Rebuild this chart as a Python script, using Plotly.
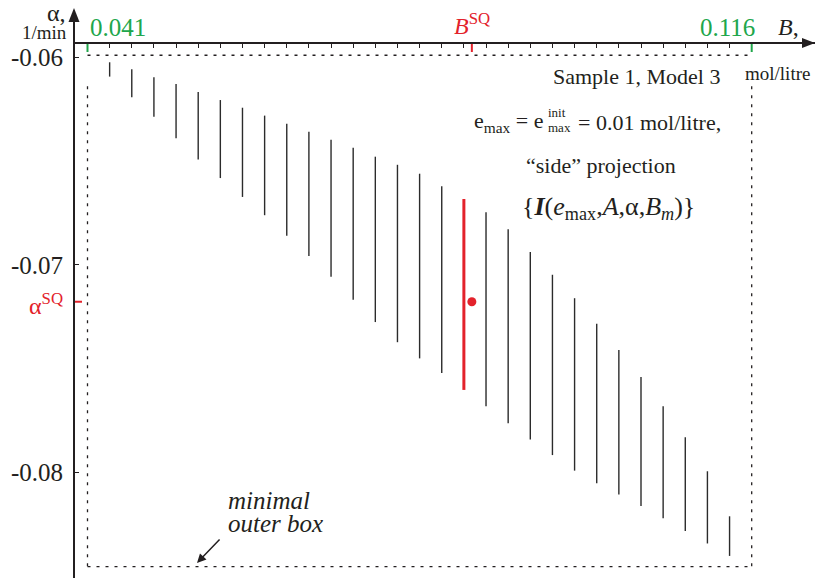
import plotly.graph_objects as go

# B grid (mol/litre) where alpha intervals were evaluated
B_grid = [0.0435, 0.0460, 0.0485, 0.0510, 0.0535, 0.0560, 0.0585, 0.0610,
          0.0635, 0.0660, 0.0685, 0.0710, 0.0735, 0.0760, 0.0785, 0.0810,
          0.0835, 0.0860, 0.0885, 0.0910, 0.0935, 0.0960, 0.0985, 0.1010,
          0.1035, 0.1060, 0.1085, 0.1110, 0.1135]

# upper and lower alpha bounds (1/min) of each interval
alpha_top = [-0.06024, -0.06058, -0.06096, -0.06129, -0.06167, -0.06206, -0.06243, -0.06281,
             -0.06320, -0.06359, -0.06397, -0.06436, -0.06479, -0.06518, -0.06561, -0.06622,
             -0.06683, -0.06747, -0.06829, -0.06938, -0.07048, -0.07161, -0.07284, -0.07411,
             -0.07541, -0.07682, -0.07831, -0.07995, -0.08212]
alpha_bot = [-0.06093, -0.06193, -0.06286, -0.06390, -0.06493, -0.06582, -0.06673, -0.06761,
             -0.06860, -0.06958, -0.07057, -0.07168, -0.07276, -0.07373, -0.07451, -0.07521,
             -0.07603, -0.07682, -0.07764, -0.07842, -0.07917, -0.07992, -0.08053, -0.08107,
             -0.08163, -0.08222, -0.08283, -0.08343, -0.08403]

# highlighted interval and the SQ point estimate
B_highlight = 0.0835
B_sq = 0.0844
alpha_sq = -0.07178

# minimal outer box
box_B = [0.041, 0.116]
box_alpha = [-0.0599, -0.08455]
box_side_top = -0.0614

# axis ticks
B_ticks = [0.0410, 0.0435, 0.0460, 0.0485, 0.0510, 0.0535, 0.0560, 0.0585, 0.0610,
           0.0635, 0.0660, 0.0685, 0.0710, 0.0735, 0.0760, 0.0785, 0.0810, 0.0835,
           0.0860, 0.0885, 0.0910, 0.0935, 0.0960, 0.0985, 0.1010, 0.1035, 0.1060,
           0.1085, 0.1110, 0.1135, 0.1160]
B_end_labels = ["0.041", "0.116"]
alpha_ticks = [-0.06, -0.07, -0.08]
alpha_tick_labels = ["-0.06", "-0.07", "-0.08"]

INK = "#231f20"
GREEN = "#20a64b"
RED = "#e3222b"
FONT = "Liberation Serif"

W, H = 815, 578
X0, Y0 = 75, 44  # plot-area origin (pixels): y-axis at left, B-axis on top
AX_X = X0 / W          # paper x of the alpha axis
AX_Y = 1 - Y0 / H      # paper y of the B axis


def pxx(p):
    return p / W


def pxy(p):
    return 1 - p / H


fig = go.Figure()

# ordinary intervals
seg_x, seg_y = [], []
for b, t, lo in zip(B_grid, alpha_top, alpha_bot):
    if abs(b - B_highlight) < 1e-9:
        continue
    seg_x += [b, b, None]
    seg_y += [t, lo, None]
fig.add_trace(go.Scatter(x=seg_x, y=seg_y, mode="lines",
                         line=dict(color="#2b2b2b", width=1.4),
                         hoverinfo="skip", showlegend=False))

# highlighted interval
i_h = min(range(len(B_grid)), key=lambda i: abs(B_grid[i] - B_highlight))
fig.add_trace(go.Scatter(x=[B_grid[i_h], B_grid[i_h]], y=[alpha_top[i_h], alpha_bot[i_h]],
                         mode="lines", line=dict(color=RED, width=3),
                         hoverinfo="skip", showlegend=False))

# SQ point
fig.add_trace(go.Scatter(x=[B_sq], y=[alpha_sq], mode="markers",
                         marker=dict(color=RED, size=9),
                         hoverinfo="skip", showlegend=False))

# dashed minimal outer box
dash = dict(color=INK, width=1.3, dash="3px,6px")
fig.add_trace(go.Scatter(x=[box_B[0], box_B[1], None, box_B[0], box_B[1]],
                         y=[box_alpha[0], box_alpha[0], None, box_alpha[1], box_alpha[1]],
                         mode="lines", line=dash, hoverinfo="skip", showlegend=False))
fig.add_trace(go.Scatter(x=[box_B[0], box_B[0], None, box_B[1], box_B[1]],
                         y=[box_side_top, box_alpha[1], None, box_side_top, box_alpha[1]],
                         mode="lines", line=dash, hoverinfo="skip", showlegend=False))

shapes = []
# coloured ticks on the B axis
for bv, col in [(box_B[0], GREEN), (box_B[1], GREEN), (B_sq, RED)]:
    shapes.append(dict(type="line", xref="x", yref="paper", ysizemode="pixel", yanchor=AX_Y,
                       x0=bv, x1=bv, y0=0, y1=-8, line=dict(color=col, width=2)))
# alpha_SQ tick on the alpha axis
shapes.append(dict(type="line", xref="paper", xsizemode="pixel", xanchor=AX_X, yref="y",
                   x0=0, x1=7, y0=alpha_sq, y1=alpha_sq, line=dict(color=RED, width=2)))
# y-axis extension above the B axis and arrowheads
shapes.append(dict(type="line", xref="paper", xsizemode="pixel", xanchor=AX_X,
                   yref="paper", ysizemode="pixel", yanchor=AX_Y,
                   x0=-1, x1=-1, y0=0, y1=26, line=dict(color=INK, width=2)))
shapes.append(dict(type="path", xref="paper", xsizemode="pixel", xanchor=AX_X,
                   yref="paper", ysizemode="pixel", yanchor=AX_Y,
                   path="M -1,36 L -6.5,22 L 4.5,22 Z", fillcolor=INK, line=dict(width=0)))
shapes.append(dict(type="path", xref="paper", xsizemode="pixel", xanchor=1,
                   yref="paper", ysizemode="pixel", yanchor=AX_Y,
                   path="M 0,1 L -13,6 L -13,-4 Z", fillcolor=INK, line=dict(width=0)))

ann = []


def label(text, x, y, size, xanchor="center", yanchor="middle", color=INK, xref="paper",
          xshift=0):
    ann.append(dict(text=text, x=x if xref != "paper" else pxx(x), y=pxy(y),
                    xref=xref, yref="paper", xanchor=xanchor, yanchor=yanchor,
                    xshift=xshift, showarrow=False,
                    font=dict(family=FONT, size=size, color=color)))


# B-axis end labels and B_SQ
label(B_end_labels[0], box_B[0], 27, 25, xanchor="left", color=GREEN, xref="x")
label(B_end_labels[1], box_B[1], 27, 25, xanchor="right", color=GREEN, xref="x", xshift=5)
label("<i>B</i><sup>SQ</sup>", B_sq, 24, 24, color=RED, xref="x")
label("<i>B</i>,", 776, 27, 24, xanchor="left")
label("mol/litre", 777, 73, 19)
# alpha axis title and alpha_SQ
label("α,", 68, 13, 24, xanchor="right")
label("1/min", 69, 33, 19, xanchor="right")
label("α<sup>SQ</sup>", 65, 304, 24, xanchor="right", color=RED)

# right-hand text block
label("Sample 1, Model 3", 636, 77, 22)
label("e<sub>max</sub> = e", 545, 122, 22, xanchor="right")
label("init", 546, 112.5, 13, xanchor="left")
label("max", 546, 127.5, 13, xanchor="left")
label("= 0.01 mol/litre,", 576, 122, 22, xanchor="left")
label("“side” projection", 601, 166, 22)
label("{<b><i>I</i></b>(<i>e</i><sub>max</sub>,<i>A</i>,α,<i>B</i><sub><i>m</i></sub>)}",
      608, 208, 26)

# minimal outer box caption with arrow
label("<i>minimal</i>", 226, 500, 25, xanchor="left")
label("<i>outer box</i>", 226, 523, 25, xanchor="left")
ann.append(dict(text="", x=pxx(197), y=pxy(563), xref="paper", yref="paper",
                ax=24, ay=-25, showarrow=True, arrowhead=2, arrowsize=1.2,
                arrowwidth=1.5, arrowcolor=INK))

fig.update_layout(
    width=W, height=H, margin=dict(l=0, r=0, t=0, b=0),
    paper_bgcolor="white", plot_bgcolor="white",
    shapes=shapes, annotations=ann, showlegend=False,
    xaxis=dict(domain=[AX_X, 1], range=[0.0395885, 0.123148], side="top",
               showgrid=False, zeroline=False, showline=True, linecolor=INK, linewidth=2,
               ticks="inside", ticklen=4, tickwidth=1.2, tickcolor=INK,
               tickvals=B_ticks, showticklabels=False, fixedrange=True),
    yaxis=dict(domain=[0, AX_Y], range=[-0.085094, -0.059359],
               showgrid=False, zeroline=False, showline=True, linecolor=INK, linewidth=2,
               ticks="inside", ticklen=4, tickwidth=1.2, tickcolor=INK,
               tickvals=alpha_ticks, ticktext=alpha_tick_labels,
               tickfont=dict(family=FONT, size=25, color=INK),
               ticklabelstandoff=5, automargin=False, fixedrange=True),
)

fig.write_html("out.html")
